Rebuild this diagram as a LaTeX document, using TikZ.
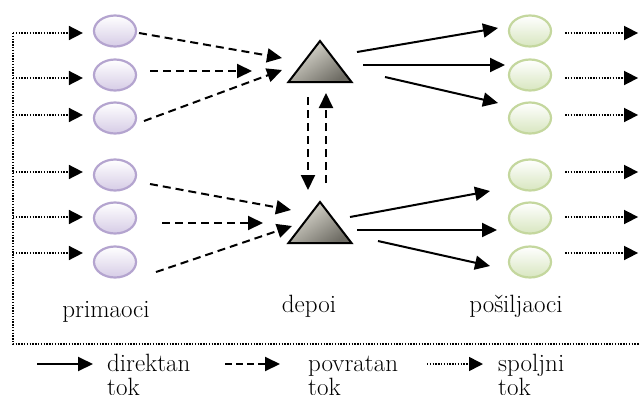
\documentclass[tikz,border=0pt]{standalone}
\usepackage{fontspec}
\usetikzlibrary{arrows.meta,calc,shapes.geometric}
\definecolor{purpB}{HTML}{B4A4CF}
\definecolor{purpF}{HTML}{D6CCE6}
\definecolor{greenB}{HTML}{C4D79E}
\definecolor{greenF}{HTML}{D8E6C0}
\definecolor{triL}{HTML}{E2E0D6}
\definecolor{triD}{HTML}{6E6C64}
\tikzset{
  recv/.style={ellipse,draw=purpB,line width=2.2pt,top color=white,bottom color=purpF,minimum width=42pt,minimum height=31pt,inner sep=0pt},
  send/.style={ellipse,draw=greenB,line width=2.2pt,top color=white,bottom color=greenF,minimum width=42pt,minimum height=31pt,inner sep=0pt},
  tri/.style={draw=black,line width=2pt,line join=miter,top color=triL,bottom color=triD,shading angle=35},
  solidarr/.style={line width=2pt,-{Triangle[length=15pt,width=14pt]}},
  dasharr/.style={line width=2pt,dash pattern=on 8pt off 5pt,-{Triangle[length=15pt,width=14pt]}},
  dotarr/.style={line width=1.6pt,dash pattern=on 1.4pt off 1.4pt,-{Triangle[length=14pt,width=14pt]}},
  dotline/.style={line width=1.6pt,dash pattern=on 1.4pt off 1.4pt},
  lbl/.style={font=\fontsize{25}{24}\selectfont,inner sep=0pt},
}
\begin{document}
\begin{tikzpicture}[x=1pt,y=-1pt]
\useasboundingbox (0,0) rectangle (640,394);
% receivers
\foreach \i/\yy in {1/31,2/75,3/118,4/175,5/218,6/262}{
  \node[recv] (l\i) at (115,\yy) {};
  \node[send] (r\i) at (530,\yy) {};
}
% depots
\coordinate (t1) at (320,68);
\coordinate (t2) at (320,229);
\foreach \t in {t1,t2}{
  \path[tri] ($(\t)+(0,-27)$) -- ($(\t)+(31.5,14)$) -- ($(\t)+(-31.5,14)$) -- cycle;
}
% labels
\node[lbl,anchor=base] (lp) at (106,317) {primaoci};
\node[lbl,anchor=base] (ld) at (309,312) {depoi};
\node[lbl,anchor=base] (ls) at (516,312) {pošiljaoci};
% external frame
\coordinate (lft) at (13,0);
\coordinate (bl) at (13,344);
\coordinate (br) at (640,344);
\draw[dotline] ($(lft |- l1.west)+(0,2)$) -- (bl) -- (br);
\foreach \i/\dy in {1/2,2/3,3/-3,4/-3,5/-1,6/-9}{
  \draw[dotarr] ($(lft |- l\i.west)+(0,\dy)$) -- ($(l\i.west)+(-10,\dy)$);
  \draw[dotarr] ($(r\i.east)+(13,\dy)$) -- ($(r\i.east)+(86,\dy)$);
}
% return flows
\draw[dasharr] ($(l1)+(24,2)$) -- ($(t1)+(-38,-10)$);
\draw[dasharr] ($(l2)+(35,-4)$) -- ($(t1)+(-68,3)$);
\draw[dasharr] ($(l3)+(29,3)$) -- ($(t1)+(-38,2)$);
\draw[dasharr] ($(l4)+(35,9)$) -- ($(t2)+(-29,-19)$);
\draw[dasharr] ($(l5)+(47,5)$) -- ($(t2)+(-57,-6)$);
\draw[dasharr] ($(l6)+(41,10)$) -- ($(t2)+(-28,-3)$);
\draw[dasharr] ($(t1)+(-12,29)$) -- ($(t2)+(-12,-39)$);
\draw[dasharr] ($(t2)+(6,-46)$) -- ($(t1)+(6,25)$);
% direct flows
\draw[solidarr] ($(t1)+(37,-16)$) -- ($(r1)+(-32,-3)$);
\draw[solidarr] ($(t1)+(43,-3)$) -- ($(r2)+(-25,-10)$);
\draw[solidarr] ($(t1)+(65,9)$) -- ($(r3)+(-32,-15)$);
\draw[solidarr] ($(t2)+(30,-12)$) -- ($(r4)+(-40,16)$);
\draw[solidarr] ($(t2)+(37,1)$) -- ($(r5)+(-33,12)$);
\draw[solidarr] ($(t2)+(58,12)$) -- ($(r6)+(-40,4)$);
% legend
\node[lbl,anchor=base west,align=left] (g1) at (107,395) {direktan\\tok};
\node[lbl,anchor=base west,align=left] (g2) at (308,395) {povratan\\tok};
\node[lbl,anchor=base west,align=left] (g3) at (498,395) {spoljni\\tok};
\coordinate (a1) at (37,364);
\coordinate (a2) at (225,364);
\coordinate (a3) at (427,364);
\draw[solidarr] (a1) -- (a1 -| 93,0);
\draw[dasharr,dash pattern=on 7pt off 4pt] (a2) -- (a2 -| 280,0);
\draw[dotarr] (a3) -- (a3 -| 483,0);
\end{tikzpicture}
\end{document}
